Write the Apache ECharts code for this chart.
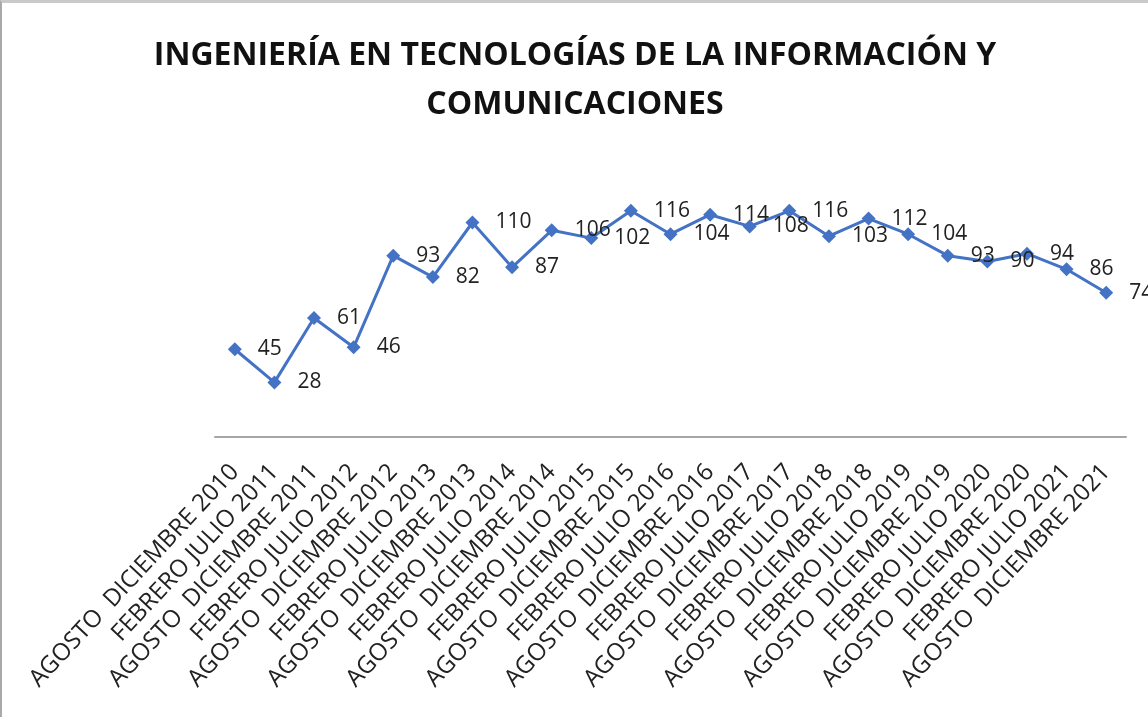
<!DOCTYPE html>
<html>
<head>
<meta charset="utf-8">
<script src="https://cdn.jsdelivr.net/npm/echarts@6/dist/echarts.min.js"></script>
<style>
  html, body { margin: 0; padding: 0; background: #fff; }
  #chart { width: 1148px; height: 717px; box-sizing: border-box; border-top: 3px solid #c9c9c9; border-left: 2px solid #a9a9a9; }
</style>
</head>
<body>
<div id="chart"></div>
<script>
var titleText = 'INGENIERÍA EN TECNOLOGÍAS DE LA INFORMACIÓN Y\nCOMUNICACIONES';

var periodos = [
  'AGOSTO  DICIEMBRE 2010', 'FEBRERO JULIO 2011', 'AGOSTO  DICIEMBRE 2011',
  'FEBRERO JULIO 2012', 'AGOSTO  DICIEMBRE 2012', 'FEBRERO JULIO 2013',
  'AGOSTO  DICIEMBRE 2013', 'FEBRERO JULIO 2014', 'AGOSTO  DICIEMBRE 2014',
  'FEBRERO JULIO 2015', 'AGOSTO  DICIEMBRE 2015', 'FEBRERO JULIO 2016',
  'AGOSTO  DICIEMBRE 2016', 'FEBRERO JULIO 2017', 'AGOSTO  DICIEMBRE 2017',
  'FEBRERO JULIO 2018', 'AGOSTO  DICIEMBRE 2018', 'FEBRERO JULIO 2019',
  'AGOSTO  DICIEMBRE 2019', 'FEBRERO JULIO 2020', 'AGOSTO  DICIEMBRE 2020',
  'FEBRERO JULIO 2021', 'AGOSTO  DICIEMBRE 2021'
];

var alumnos = [45, 28, 61, 46, 93, 82, 110, 87, 106, 102, 116, 104,
  114, 108, 116, 103, 112, 104, 93, 90, 94, 86, 74];

var myChart = echarts.init(document.getElementById('chart'), null, { renderer: 'canvas' });

var option = {
  backgroundColor: '#fff',
  animation: false,
  title: {
    text: titleText,
    left: 'center',
    top: 23,
    textStyle: {
      fontFamily: 'Open Sans, sans-serif',
      fontWeight: 'bold',
      fontSize: 32,
      lineHeight: 49,
      color: '#111'
    }
  },
  grid: {
    left: 213,
    right: 22,
    top: 161,
    bottom: 280
  },
  xAxis: {
    type: 'category',
    data: periodos,
    boundaryGap: true,
    axisLine: { lineStyle: { color: '#a6a6a6', width: 2 } },
    axisTick: { show: false },
    axisLabel: {
      interval: 0,
      rotate: 47,
      margin: 31,
      fontFamily: 'Open Sans, sans-serif',
      fontSize: 24,
      color: '#222'
    }
  },
  yAxis: {
    type: 'value',
    min: 0,
    max: 140,
    show: false
  },
  series: [{
    name: 'Alumnos',
    type: 'line',
    data: alumnos,
    symbol: 'diamond',
    symbolSize: 14,
    lineStyle: { color: '#4472C4', width: 3 },
    itemStyle: { color: '#4472C4' },
    label: {
      show: true,
      position: 'right',
      distance: 16,
      fontFamily: 'Open Sans, sans-serif',
      fontSize: 21,
      color: '#222'
    }
  }]
};

myChart.setOption(option);
</script>
</body>
</html>
